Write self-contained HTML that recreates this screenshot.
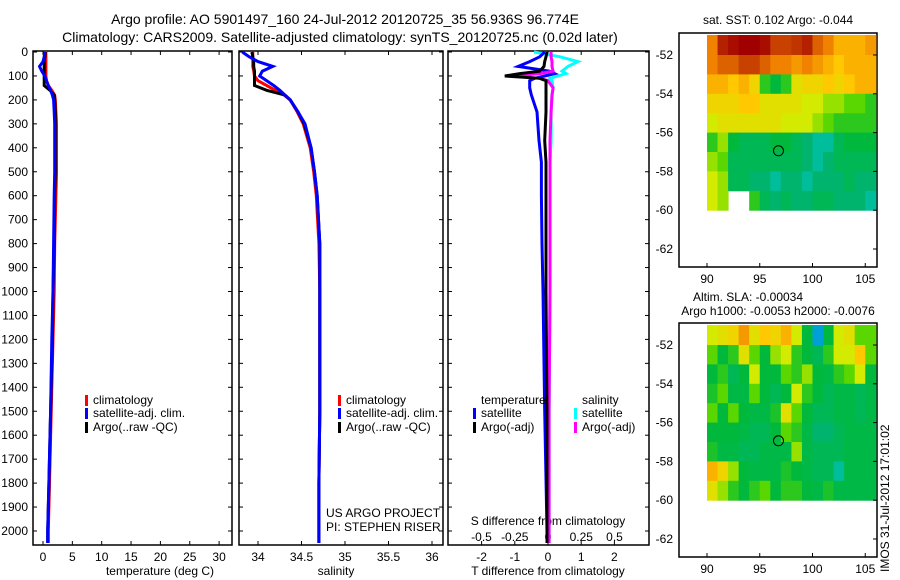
<!DOCTYPE html>
<html><head><meta charset="utf-8"><style>
html,body{margin:0;padding:0;background:#fff;}
svg{display:block;font-family:"Liberation Sans",sans-serif;}
text{fill:#000;}
</style></head><body>
<svg id="c" width="900" height="580" viewBox="0 0 900 580">
<text x="345" y="24" font-size="14" text-anchor="middle">Argo profile: AO 5901497_160 24-Jul-2012 20120725_35 56.936S 96.774E</text>
<text x="340" y="42" font-size="14" text-anchor="middle">Climatology: CARS2009. Satellite-adjusted climatology: synTS_20120725.nc (0.02d later)</text>
<text x="160" y="575" font-size="12" text-anchor="middle">temperature (deg C)</text>
<text x="336" y="575" font-size="12" text-anchor="middle">salinity</text>
<text x="548" y="575" font-size="12" text-anchor="middle">T difference from climatology</text>
<text x="548" y="525" font-size="12" text-anchor="middle">S difference from climatology</text>
<text x="326" y="517" font-size="12">US ARGO PROJECT</text>
<text x="326" y="531" font-size="12">PI: STEPHEN RISER</text>
<text x="778" y="24" font-size="12" text-anchor="middle">sat. SST: 0.102 Argo: -0.044</text>
<text x="748" y="301" font-size="12" text-anchor="middle">Altim. SLA: -0.00034</text>
<text x="778" y="315" font-size="12" text-anchor="middle">Argo h1000: -0.0053 h2000: -0.0076</text>
<text x="0" y="0" font-size="12" transform="translate(889,572) rotate(-90)">IMOS 31-Jul-2012 17:01:02</text>
</svg>
<script>
// ---- data ----
const depths = [0,20,40,60,80,100,120,140,160,180,200,250,300,400,500,600,800,1000,1200,1500,1800,2000,2050];
const tClim = [0.5,0.5,0.5,0.5,0.5,0.5,0.6,0.9,1.5,2.0,2.1,2.2,2.3,2.3,2.3,2.2,2.0,1.9,1.7,1.4,1.1,0.9,0.9];
const tSat  = [0.3,0.2,0.0,-0.6,-0.2,0.3,0.6,0.9,1.3,1.6,1.8,1.9,2.0,2.0,2.0,1.9,1.8,1.7,1.5,1.3,1.0,0.8,0.8];
const tArgo = [0.4,0.3,0.2,0.2,0.2,0.2,0.2,0.2,1.2,1.9,2.0,2.1,2.1,2.1,2.1,2.0,1.9,1.7,1.6,1.3,1.0,0.8,0.8];
const sClim = [33.94,33.94,33.94,33.94,33.95,33.96,34.0,34.1,34.2,34.3,34.37,34.45,34.52,34.6,34.64,34.67,34.7,34.71,34.71,34.71,34.70,34.70,34.70];
const sSat  = [33.82,33.9,34.0,34.17,34.05,34.02,34.1,34.18,34.25,34.31,34.37,34.46,34.54,34.61,34.65,34.68,34.71,34.71,34.71,34.71,34.70,34.70,34.70];
const sArgo = [33.93,33.94,33.95,33.95,33.96,33.96,33.96,33.96,34.1,34.31,34.37,34.46,34.53,34.61,34.65,34.68,34.71,34.71,34.71,34.71,34.70,34.70,34.70];
const dDepths = [0,20,40,60,80,90,100,110,120,150,180,250,370,460,600,800,1000,1500,2000,2050];
const dTSat  = [-0.1,-0.25,-0.55,-0.9,0.05,0.2,-0.1,-0.4,-0.55,-0.55,-0.5,-0.33,-0.27,-0.2,-0.2,-0.18,-0.15,-0.1,-0.03,-0.03];
const dTArgo = [-0.03,-0.06,-0.1,-0.12,-0.25,-0.85,-1.3,-0.25,-0.06,-0.06,-0.06,-0.06,-0.1,-0.06,-0.06,-0.06,-0.06,-0.03,-0.03,-0.03];
const dSSat  = [-0.105,0.09,0.225,0.15,0.105,0.135,0.075,0.015,0.03,0.038,0.03,0.023,0.023,0.015,0.015,0.015,0.015,0.008,0.008,0.008];
const dSArgo = [0.023,0.023,0.03,0.03,0.038,-0.06,-0.27,-0.06,0,0.038,0.03,0.023,0.015,0.015,0.015,0.015,0.015,0.008,0.008,0.008];
const depthTicks = [0,100,200,300,400,500,600,700,800,900,1000,1100,1200,1300,1400,1500,1600,1700,1800,1900,2000];
const tTicks = [0,5,10,15,20,25,30];
const sTicks = [34,34.5,35,35.5,36];
const sTickLabels = ['34','34.5','35','35.5','36'];
const dTTicks = [-2,-1,0,1,2];
const dSTicks = [-0.5,-0.25,0,0.25,0.5];
const dSTickLabels = ['-0.5','-0.25','0','0.25','0.5'];
const sstGrid = [
[.8,.95,.98,1,1,.98,.9,.9,.92,.95,.85,.8,.7,.7,.7,.75],
[.8,.85,.85,.9,.9,.85,.8,.8,.75,.8,.75,.7,.65,.7,.7,.7],
[.7,.7,.65,.7,.6,.35,.3,.35,.55,.6,.6,.65,.6,.65,.7,.7],
[.6,.6,.6,.65,.65,.55,.55,.55,.55,.5,.5,.45,.45,.4,.4,.35],
[.5,.55,.55,.55,.55,.55,.55,.5,.5,.5,.45,.4,.35,.35,.35,.35],
[.35,.45,.3,.25,.25,.25,.3,.3,.25,.2,.15,.15,.25,.3,.3,.3],
[.45,.4,.25,.25,.25,.25,.25,.25,.25,.2,.15,.2,.25,.25,.25,.25],
[.5,.45,.25,.25,.2,.2,.15,.2,.2,.15,.2,.2,.2,.25,.2,.2],
[.5,.45,null,null,.35,.25,.2,.25,.2,.2,.25,.25,.2,.2,.2,.15]];
const slaGrid = [
[.5,.55,.6,.75,.55,.65,.6,.7,.5,.3,.05,.3,.5,.55,.4,.4],
[.4,.3,.35,.55,.4,.3,.45,.5,.35,.3,.25,.35,.5,.5,.65,.4],
[.3,.35,.25,.3,.5,.3,.3,.4,.35,.45,.3,.28,.35,.4,.5,.3],
[.33,.4,.28,.28,.4,.3,.25,.3,.5,.35,.3,.25,.28,.28,.25,.28],
[.4,.3,.4,.3,.28,.28,.33,.55,.4,.3,.25,.25,.28,.28,.25,.28],
[.3,.3,.3,.28,.25,.25,.3,.4,.35,.28,.2,.2,.25,.28,.28,.28],
[.33,.28,.28,.25,.25,.28,.28,.28,.45,.28,.25,.25,.25,.28,.28,.28],
[.7,.6,.45,.3,.28,.28,.28,.33,.3,.28,.25,.25,.15,.28,.28,.28],
[.55,.45,.35,.3,.35,.4,.3,.35,.35,.3,.28,.33,.28,.28,.28,.28]];
const lonTicks = [90,95,100,105];
const latTicks = [-52,-54,-56,-58,-60,-62];
const argoLon = 96.774, argoLat = -56.936;

const svg = document.getElementById('c');
const NS = 'http://www.w3.org/2000/svg';
function mk(tag, a){const e=document.createElementNS(NS,tag);for(const k in a)e.setAttribute(k,a[k]);svg.appendChild(e);return e;}
const yD = d => 52 + d*0.2395;
const xT = v => 43 + v*5.87;
const xS = v => 258 + (v-34)*87;
const xDT = v => 548 + v*33.2;
const xDS = v => 548 + v*133;

function panel(x0,x1,name){
  const r=mk('rect',{x:x0,y:51,width:x1-x0,height:494,fill:'none',stroke:'#000','stroke-width':1.5});
  
  
  depthTicks.forEach(d=>{mk('line',{x1:x0,x2:x0+4,y1:yD(d),y2:yD(d),stroke:'#000'});mk('line',{x1:x1,x2:x1-4,y1:yD(d),y2:yD(d),stroke:'#000'});});
}
panel(33,232,'temperature-panel');
panel(239,443,'salinity-panel');
panel(448,649,'difference-panel');
depthTicks.forEach(d=>{
  const t=mk('text',{x:28,y:yD(d)+4,'font-size':12,'text-anchor':'end'});t.textContent=d;
  
  
});
function xticks(arr,labels,fx,y,top){
  arr.forEach((v,i)=>{const x=fx(v);
    mk('line',{x1:x,x2:x,y1:545,y2:541,stroke:'#000'});
    if(top) mk('line',{x1:x,x2:x,y1:51,y2:55,stroke:'#000'});
    const t=mk('text',{x:x,y:y,'font-size':12,'text-anchor':'middle'});t.textContent=labels?labels[i]:v;
    
    
  });
}
xticks(tTicks,null,xT,561,true);
xticks(sTicks,sTickLabels,xS,561,true);
xticks(dTTicks,null,xDT,561,true);
dSTicks.forEach((v,i)=>{const t=mk('text',{x:xDS(v),y:541,'font-size':12,'text-anchor':'middle'});t.textContent=dSTickLabels[i];
  
  });

function line(ds,vals,fx,color,name){
  const pts=ds.map((d,i)=>fx(vals[i]).toFixed(1)+','+yD(d).toFixed(1)).join(' ');
  const p=mk('polyline',{points:pts,fill:'none',stroke:color,'stroke-width':3,'stroke-linejoin':'miter'});
  
  
}
line(depths,tClim,xT,'#f00','temp-climatology-line');
line(depths,tArgo,xT,'#000','temp-argo-line');
line(depths,tSat,xT,'#00f','temp-satellite-line');
line(depths,sClim,xS,'#f00','sal-climatology-line');
line(depths,sArgo,xS,'#000','sal-argo-line');
line(depths,sSat,xS,'#00f','sal-satellite-line');
line(dDepths,dSSat,xDS,'#0ff','sdiff-satellite-line');
line(dDepths,dTSat,xDT,'#00f','tdiff-satellite-line');
line(dDepths,dSArgo,xDS,'#f0f','sdiff-argo-line');
line(dDepths,dTArgo,xDT,'#000','tdiff-argo-line');

function leg(x,y,color,label,name){
  const r=mk('rect',{x:x,y:y-9,width:3,height:11,fill:color});
  
  
  const t=mk('text',{x:x+8,y:y,'font-size':12});t.textContent=label;
  
  
}
leg(85,404,'#f00','climatology','legend-climatology');
leg(85,417,'#00f','satellite-adj. clim.','legend-satellite');
leg(85,431,'#000','Argo(..raw -QC)','legend-argo');
leg(338,404,'#f00','climatology','legend-climatology-2');
leg(338,417,'#00f','satellite-adj. clim.','legend-satellite-2');
leg(338,431,'#000','Argo(..raw -QC)','legend-argo-2');
{const t=mk('text',{x:481,y:404,'font-size':12});t.textContent='temperature';

}
{const t=mk('text',{x:582,y:404,'font-size':12});t.textContent='salinity';

}
leg(473,417,'#00f','satellite','legend-t-satellite');
leg(473,431,'#000','Argo(-adj)','legend-t-argo');
leg(574,417,'#0ff','satellite','legend-s-satellite');
leg(574,431,'#f0f','Argo(-adj)','legend-s-argo');

// colormap
const cstops=[[0,[0,120,230]],[.1,[0,200,200]],[.2,[0,180,110]],[.3,[0,185,60]],[.4,[90,215,0]],[.5,[210,235,0]],[.65,[255,200,0]],[.8,[240,130,0]],[1,[160,0,0]]];
function cmap(v){for(let i=1;i<cstops.length;i++){if(v<=cstops[i][0]){const a=cstops[i-1],b=cstops[i];const f=(v-a[0])/(b[0]-a[0]);
  return 'rgb('+a[1].map((c,k)=>Math.round(c+(b[1][k]-c)*f)).join(',')+')';}}return 'rgb(160,0,0)';}

function map(top,grid,name){
  const fx=lon=>707+(lon-90)*10.55;
  const fy=lat=>top+22+(-52-lat)*19.4;
  const fr=mk('rect',{x:679,y:top,width:198,height:234,fill:'#fff',stroke:'#000','stroke-width':1.5});
  
  
  grid.forEach((row,r)=>row.forEach((v,c)=>{
    if(v===null) return;
    const x0=fx(90+c),x1=fx(91+c),y0=(r===0?top+2:fy(-51-r)),y1=fy(-52-r);
    const cell=mk('rect',{x:x0,y:y0,width:x1-x0+0.5,height:y1-y0+0.5,fill:cmap(v)});
    
    
  }));
  latTicks.forEach(l=>{const y=fy(l);mk('line',{x1:877,x2:873,y1:y,y2:y,stroke:'#000'});
    const t=mk('text',{x:673,y:y+4,'font-size':12,'text-anchor':'end'});t.textContent=l;
    
    });
  lonTicks.forEach(l=>{const x=fx(l);mk('line',{x1:x,x2:x,y1:top+234,y2:top+230,stroke:'#000'});
    const t=mk('text',{x:x,y:top+250,'font-size':12,'text-anchor':'middle'});t.textContent=l;
    
    });
  const m=mk('circle',{cx:fx(argoLon),cy:fy(argoLat),r:5,fill:'none',stroke:'#000','stroke-width':1});
  
  
}
map(33,sstGrid,'sst-map');
map(323,slaGrid,'sla-map');
</script>
</body></html>
